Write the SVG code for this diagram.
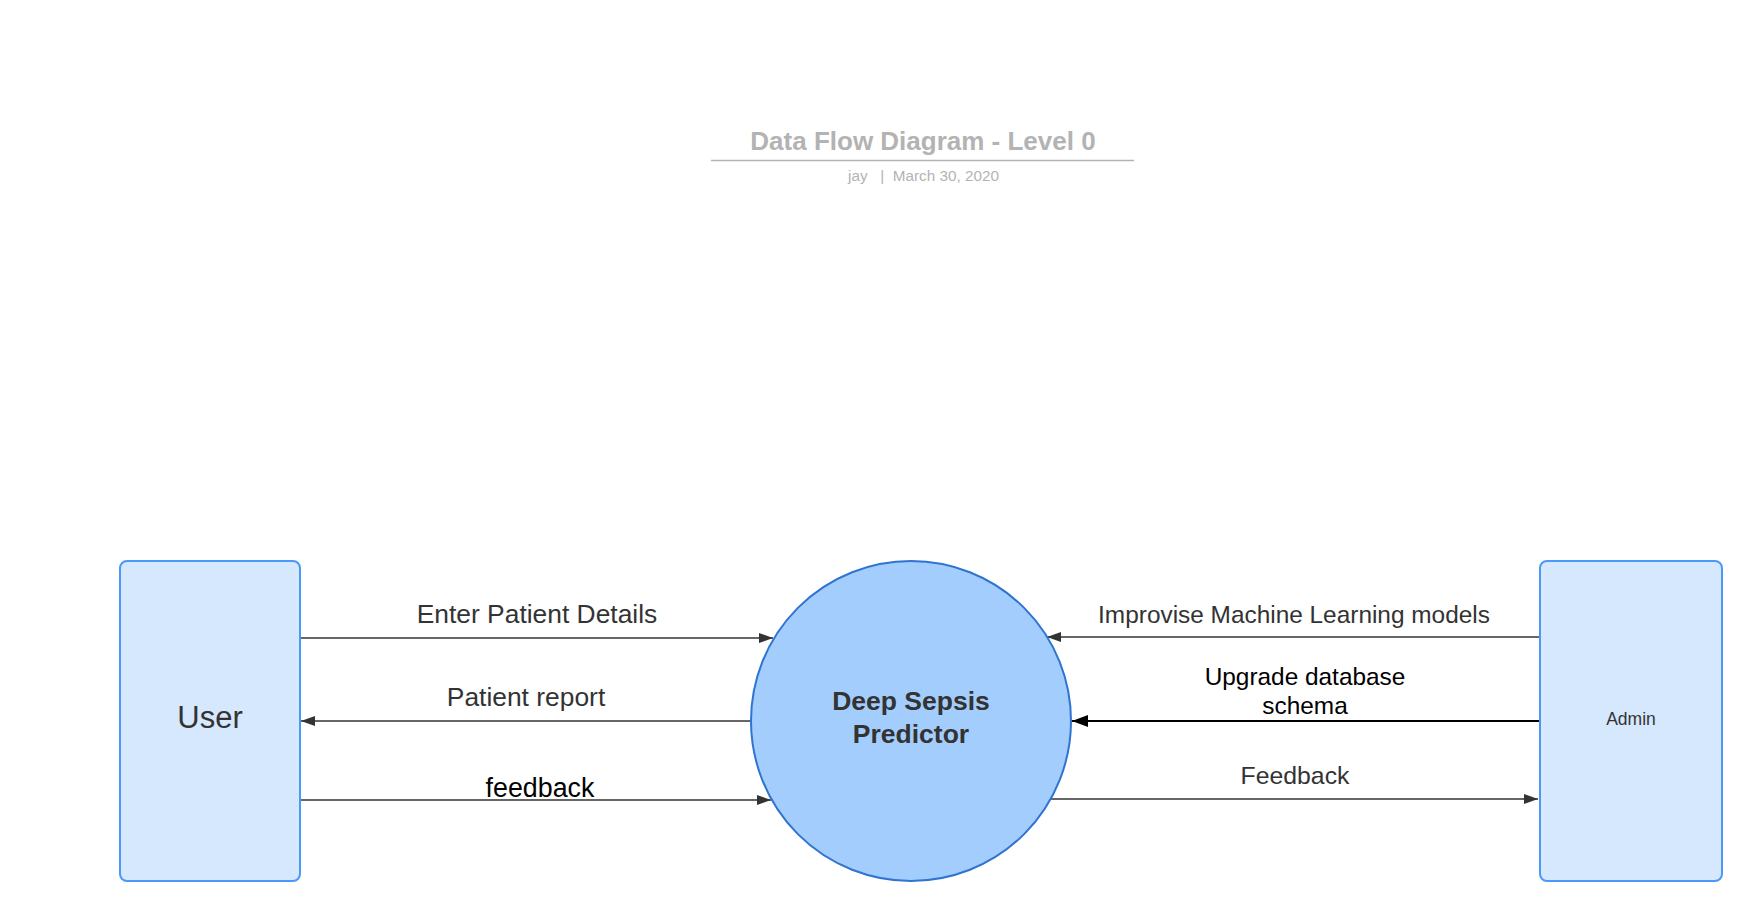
<svg xmlns="http://www.w3.org/2000/svg" width="1762" height="920" viewBox="0 0 1762 920">
<style>
.lbl{font-family:"Liberation Sans",Arial,sans-serif;font-size:26px;fill:#333;text-anchor:middle}
.blk{fill:#000}
.ent{fill:#d6e8fe;stroke:#4a98f7;stroke-width:2}
.ln{stroke:#333;stroke-width:1.3;fill:none}
</style>
<defs>
<marker id="ah" viewBox="0 0 14 10" refX="14" refY="5" markerWidth="14" markerHeight="10" markerUnits="userSpaceOnUse" orient="auto">
<path d="M0,0 L14,5 L0,10 Z" fill="#333"/>
</marker>
<marker id="ahb" viewBox="0 0 16 12" refX="16" refY="6" markerWidth="16" markerHeight="12" markerUnits="userSpaceOnUse" orient="auto">
<path d="M0,0 L16,6 L0,12 Z" fill="#000"/>
</marker>
</defs>
<rect width="1762" height="920" fill="#fff"/>
<g id="title">
<text x="923" y="150" font-family="Liberation Sans,Arial,sans-serif" font-size="26" font-weight="bold" fill="#b3b3b3" text-anchor="middle">Data Flow Diagram - Level 0</text>
<line x1="711" y1="160.5" x2="1134" y2="160.5" stroke="#b3b3b3" stroke-width="1.5"/>
<text x="848" y="181" font-family="Liberation Sans,Arial,sans-serif" font-size="15.3" fill="#b3b3b3" xml:space="preserve">jay   |  March 30, 2020</text>
</g>
<g id="connectors">
<line class="ln" x1="300" y1="638" x2="773" y2="638" marker-end="url(#ah)"/>
<line class="ln" x1="751" y1="721" x2="301" y2="721" marker-end="url(#ah)"/>
<line class="ln" x1="300" y1="800" x2="771" y2="800" marker-end="url(#ah)"/>
<line class="ln" x1="1539" y1="637" x2="1047" y2="637" marker-end="url(#ah)"/>
<line x1="1539" y1="721" x2="1072" y2="721" stroke="#000" stroke-width="2" marker-end="url(#ahb)"/>
<line class="ln" x1="1048" y1="799" x2="1538" y2="799" marker-end="url(#ah)"/>
<text class="lbl" x="537" y="623" style="font-size:26.4px">Enter Patient Details</text>
<text class="lbl" x="526" y="706" style="font-size:26.4px">Patient report</text>
<text class="lbl blk" x="540" y="797" style="font-size:26.8px">feedback</text>
<text class="lbl" x="1294" y="623" style="font-size:24.4px">Improvise Machine Learning models</text>
<text class="lbl blk" x="1305" y="685" style="font-size:24.4px">Upgrade database</text>
<text class="lbl blk" x="1305" y="714" style="font-size:24.4px">schema</text>
<text class="lbl" x="1295" y="784" style="font-size:24.8px">Feedback</text>
</g>
<g id="user">
<rect class="ent" x="120" y="561" width="180" height="320" rx="7"/>
<text x="210" y="728" font-family="Liberation Sans,Arial,sans-serif" font-size="31" fill="#333" text-anchor="middle">User</text>
</g>
<g id="process">
<circle cx="911" cy="721" r="160" fill="#a3cdfd" stroke="#2f74d0" stroke-width="2"/>
<text x="911" y="710" font-family="Liberation Sans,Arial,sans-serif" font-size="26.5" font-weight="bold" fill="#333" text-anchor="middle">Deep Sepsis</text>
<text x="911" y="743" font-family="Liberation Sans,Arial,sans-serif" font-size="26.5" font-weight="bold" fill="#333" text-anchor="middle">Predictor</text>
</g>
<g id="admin">
<rect class="ent" x="1540" y="561" width="182" height="320" rx="7"/>
<text x="1631" y="725" font-family="Liberation Sans,Arial,sans-serif" font-size="17.5" fill="#333" text-anchor="middle">Admin</text>
</g>
</svg>
